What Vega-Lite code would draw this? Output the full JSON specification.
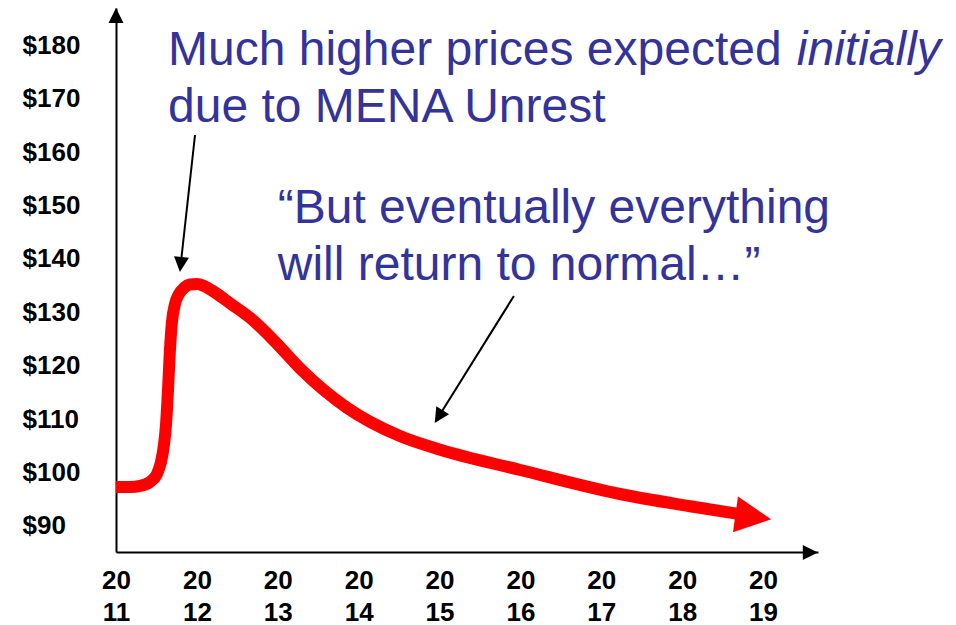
{
  "$schema": "https://vega.github.io/schema/vega-lite/v6.json",
  "width": 702,
  "height": 544,
  "autosize": "none",
  "padding": {"left": 116, "top": 8, "right": 138, "bottom": 73},
  "background": "white",
  "config": {"view": {"stroke": null}},
  "datasets": {
    "price": [
      {"x": 2011.0, "y": 97.3},
      {"x": 2011.173, "y": 97.3},
      {"x": 2011.297, "y": 97.49},
      {"x": 2011.42, "y": 98.24},
      {"x": 2011.507, "y": 99.74},
      {"x": 2011.556, "y": 101.98},
      {"x": 2011.593, "y": 105.17},
      {"x": 2011.618, "y": 108.91},
      {"x": 2011.643, "y": 115.47},
      {"x": 2011.667, "y": 122.96},
      {"x": 2011.692, "y": 128.2},
      {"x": 2011.729, "y": 131.57},
      {"x": 2011.779, "y": 133.44},
      {"x": 2011.84, "y": 134.57},
      {"x": 2011.915, "y": 135.22},
      {"x": 2012.0, "y": 135.32},
      {"x": 2012.088, "y": 134.94},
      {"x": 2012.187, "y": 134.1},
      {"x": 2012.42, "y": 131.6},
      {"x": 2012.66, "y": 128.95},
      {"x": 2012.97, "y": 124.46},
      {"x": 2013.27, "y": 119.59},
      {"x": 2013.86, "y": 112.1},
      {"x": 2014.51, "y": 106.85},
      {"x": 2015.02, "y": 104.23},
      {"x": 2016.0, "y": 100.49},
      {"x": 2017.23, "y": 95.99},
      {"x": 2018.1, "y": 93.7},
      {"x": 2018.68, "y": 92.3}
    ],
    "redhead": [{"x": 2018.88, "y": 91.72, "angle": 8}],
    "pointers": [
      {"x": 2011.977, "y": 163.22, "x2": 2011.8, "y2": 138.97, "angle": 96},
      {"x": 2015.92, "y": 133.07, "x2": 2014.99, "y2": 110.49, "angle": 122}
    ],
    "axisheads": [
      {"x": 2011.0, "y": 185.6, "angle": 270},
      {"x": 2019.585, "y": 85.05, "angle": 0}
    ],
    "notes": [
      {"x": 2011.643, "y": 176.33, "text": "Much higher prices expected"},
      {"x": 2011.643, "y": 165.65, "text": "due to MENA Unrest"},
      {"x": 2013.0, "y": 146.74, "text": "“But eventually everything"},
      {"x": 2013.0, "y": 136.07, "text": "will return to normal…”"}
    ],
    "italicnotes": [
      {"x": 2019.418, "y": 176.33, "text": "initially"}
    ]
  },
  "encoding": {
    "x": {
      "field": "x", "type": "quantitative",
      "scale": {"domain": [2011, 2019.68], "nice": false, "zero": false},
      "axis": {
        "values": [2011, 2012, 2013, 2014, 2015, 2016, 2017, 2018, 2019],
        "title": null, "grid": false, "ticks": false, "tickSize": 0,
        "domainColor": "black", "domainWidth": 2,
        "labelExpr": "['20', '' + (datum.value - 2000)]",
        "labelFont": "Liberation Sans", "labelFontWeight": "bold", "labelFontSize": 26,
        "labelColor": "black", "labelPadding": 15, "labelLineHeight": 32,
        "labelFlush": false, "labelOverlap": false, "labelBaseline": "top", "labelBound": false
      }
    },
    "y": {
      "field": "y", "type": "quantitative",
      "scale": {"domain": [85.13, 187], "nice": false, "zero": false},
      "axis": {
        "values": [90, 100, 110, 120, 130, 140, 150, 160, 170, 180],
        "title": null, "grid": false, "ticks": false, "tickSize": 0,
        "domainColor": "black", "domainWidth": 2,
        "labelExpr": "'$' + datum.value",
        "labelFont": "Liberation Sans", "labelFontWeight": "bold", "labelFontSize": 26,
        "labelColor": "black", "labelPadding": 94, "labelAlign": "left",
        "labelFlush": false, "labelOverlap": false, "labelBaseline": "middle", "labelBound": false
      }
    }
  },
  "layer": [
    {
      "data": {"name": "price"},
      "mark": {"type": "line", "color": "#FF0000", "strokeWidth": 12, "interpolate": "monotone", "strokeCap": "butt", "strokeJoin": "round"}
    },
    {
      "data": {"name": "redhead"},
      "mark": {"type": "point", "shape": "M-1,-1L1,0L-1,1Z", "filled": true, "color": "#FF0000", "size": 1296, "opacity": 1, "strokeWidth": 0},
      "encoding": {"angle": {"field": "angle", "type": "quantitative", "scale": null}}
    },
    {
      "data": {"name": "pointers"},
      "mark": {"type": "rule", "color": "black", "strokeWidth": 2},
      "encoding": {"x2": {"field": "x2"}, "y2": {"field": "y2"}}
    },
    {
      "data": {"name": "pointers"},
      "mark": {"type": "point", "shape": "M-1,-1L1,0L-1,1Z", "filled": true, "color": "black", "size": 225, "opacity": 1, "strokeWidth": 0},
      "encoding": {
        "x": {"field": "x2", "type": "quantitative"},
        "y": {"field": "y2", "type": "quantitative"},
        "angle": {"field": "angle", "type": "quantitative", "scale": null}
      }
    },
    {
      "data": {"name": "axisheads"},
      "mark": {"type": "point", "shape": "M-1,-1L1,0L-1,1Z", "filled": true, "color": "black", "size": 225, "opacity": 1, "strokeWidth": 0},
      "encoding": {"angle": {"field": "angle", "type": "quantitative", "scale": null}}
    },
    {
      "data": {"name": "notes"},
      "mark": {"type": "text", "align": "left", "baseline": "alphabetic", "font": "Liberation Sans", "fontSize": 48, "color": "#333399"},
      "encoding": {"text": {"field": "text"}}
    },
    {
      "data": {"name": "italicnotes"},
      "mark": {"type": "text", "align": "left", "baseline": "alphabetic", "font": "Liberation Sans", "fontSize": 48, "fontStyle": "italic", "color": "#333399"},
      "encoding": {"text": {"field": "text"}}
    }
  ]
}
